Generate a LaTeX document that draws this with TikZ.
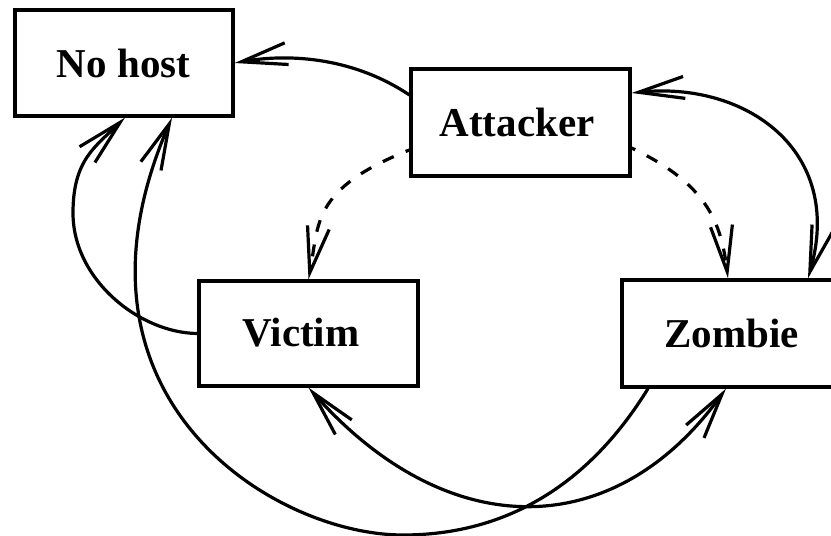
\documentclass[tikz,border=0pt]{standalone}
\usepackage{fontspec}
\setmainfont{Liberation Serif}
\usetikzlibrary{arrows.meta}
\begin{document}
\begin{tikzpicture}[x=1pt,y=-1pt,
  box/.style={draw, line width=3.2pt, minimum width=219pt, minimum height=106pt, inner sep=0pt},
  lbl/.style={font=\fontsize{41}{41}\selectfont\bfseries, inner sep=0pt},
  conn/.style={line width=3.2pt},
  dsh/.style={dash pattern=on 12pt off 13pt, dash phase=8pt},
  arr/.style={-{Straight Barb[length=46pt,width=22pt]}},
  arrboth/.style={{Straight Barb[length=46pt,width=22pt]}-{Straight Barb[length=46pt,width=22pt]}}]
\useasboundingbox (0,0) rectangle (831,536);
\clip (0,0) rectangle (831,536);
% boxes
\node[box, minimum width=218pt] (nh) at (124,63) {};
\node[lbl] (nhl) at (123.5,63) {No host};
\node[box, minimum height=107pt] (at) at (520.5,122.5) {};
\node[lbl] (atl) at (517,122) {Attacker};
\node[box, minimum height=105pt] (vi) at (308.5,333.5) {};
\node[lbl] (vil) at (301,333) {Victim};
\node[box, minimum height=107pt] (zb) at (731.5,333.5) {};
\node[lbl] (zbl) at (731.5,333) {Zombie};
% connectors
\draw[conn,arr] ([yshift=27.5pt]at.west) .. controls (356,59) and (292.6,52.6) .. (nh.east);
\draw[conn,arrboth] ([yshift=29.5pt]at.east) .. controls (745,81) and (845,150) .. ([xshift=76.5pt]zb.north);
\draw[conn,dsh,arr] ([yshift=-27.5pt]at.west) .. controls (311,189) and (319,224) .. (vi.north);
\draw[conn,dsh,arr] ([yshift=-25.5pt]at.east) .. controls (707,184) and (721,222) .. ([xshift=-3.5pt]zb.north);
\draw[conn,arr] (vi.west) .. controls (140,333) and (73,280) .. (73,213) .. controls (73,160) and (95,147) .. ([xshift=1pt]nh.south);
\draw[conn,arrboth] (vi.south) .. controls (447,544) and (614,544) .. ([xshift=-5.5pt]zb.south);
\draw[conn,arr] ([xshift=-83.5pt]zb.south) .. controls (580,499) and (490,535) .. (403,535) .. controls (273,535) and (50.5,397) .. ([xshift=48pt]nh.south);
\end{tikzpicture}
\end{document}
